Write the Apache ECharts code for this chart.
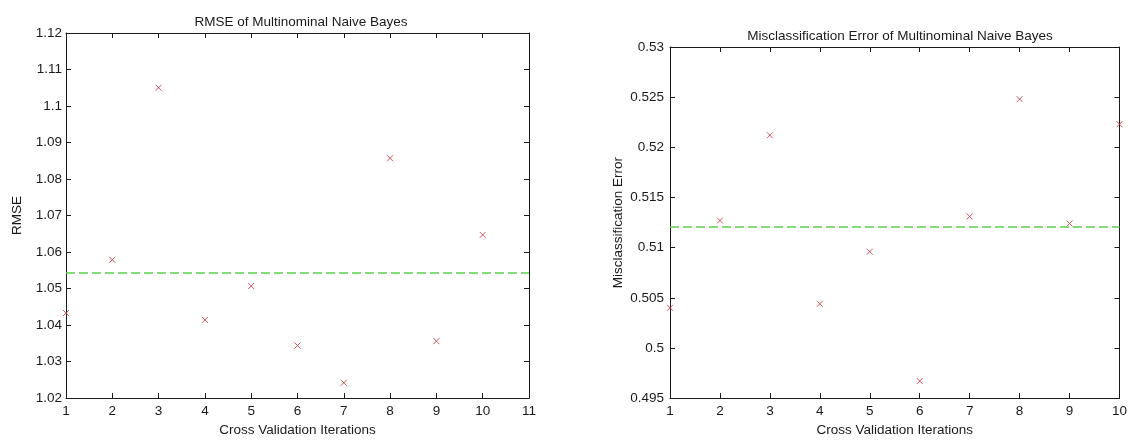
<!DOCTYPE html>
<html>
<head>
<meta charset="utf-8">
<style>
  html, body { margin: 0; padding: 0; background: #fff; }
  #chart { width: 1130px; height: 442px; }
</style>
<script src="https://cdn.jsdelivr.net/npm/echarts@6/dist/echarts.min.js"></script>
</head>
<body>
<div id="chart"></div>
<script>
// ---- data ----
const iterations = [1, 2, 3, 4, 5, 6, 7, 8, 9, 10];
const rmseValues = [1.0433, 1.0579, 1.1050, 1.0414, 1.0507, 1.0344, 1.0242, 1.0857, 1.0356, 1.0647];
const rmseMean = 1.0543;
const errorValues = [0.5040, 0.5127, 0.5212, 0.5044, 0.5096, 0.4967, 0.5131, 0.5248, 0.5124, 0.5223];
const errorMean = 0.5121;

const leftTitle = 'RMSE of Multinominal Naive Bayes';
const rightTitle = 'Misclassification Error of Multinominal Naive Bayes';
const xName = 'Cross Validation Iterations';
const leftYName = 'RMSE';
const rightYName = 'Misclassification Error';

// ---- styling ----
const FONT = 'Liberation Sans, Arial, sans-serif';
const FS = 13.5;
const AXIS_COLOR = '#1a1a1a';
const TEXT_COLOR = '#1a1a1a';
const MARK_COLOR = '#c0303e';
const MEAN_COLOR = '#5ccf4f';
const X_SYMBOL = 'path://M0,0L10,10M10,0L0,10';

function pairs(xs, ys) { return xs.map((x, i) => [x, ys[i]]); }

function xAxisPair(gridIndex, min, max) {
  const common = {
    gridIndex, type: 'value', min, max, interval: 1,
    splitLine: { show: false },
    axisLine: { show: true, onZero: false, lineStyle: { color: AXIS_COLOR, width: 1 } },
    axisTick: { show: true, inside: true, length: 5, lineStyle: { color: AXIS_COLOR } }
  };
  return [
    Object.assign({}, common, {
      position: 'bottom',
      name: xName, nameLocation: 'middle', nameGap: 22,
      nameTextStyle: { fontFamily: FONT, fontSize: FS, color: TEXT_COLOR },
      axisLabel: { show: true, margin: 6, fontFamily: FONT, fontSize: FS, color: TEXT_COLOR }
    }),
    Object.assign({}, common, { position: 'top', axisLabel: { show: false } })
  ];
}

function yAxisPair(gridIndex, min, max, interval, name, nameGap, labelMargin) {
  const common = {
    gridIndex, type: 'value', min, max, interval,
    splitLine: { show: false },
    axisLine: { show: true, onZero: false, lineStyle: { color: AXIS_COLOR, width: 1 } },
    axisTick: { show: true, inside: true, length: 5, lineStyle: { color: AXIS_COLOR } }
  };
  return [
    Object.assign({}, common, {
      position: 'left',
      name, nameLocation: 'middle', nameGap,
      nameTextStyle: { fontFamily: FONT, fontSize: FS, color: TEXT_COLOR },
      axisLabel: { show: true, margin: labelMargin, fontFamily: FONT, fontSize: FS, color: TEXT_COLOR }
    }),
    Object.assign({}, common, { position: 'right', axisLabel: { show: false } })
  ];
}

function scatterSeries(xi, yi, data, mean) {
  return {
    type: 'scatter',
    xAxisIndex: xi, yAxisIndex: yi,
    data,
    symbol: X_SYMBOL,
    symbolSize: 6,
    clip: false,
    itemStyle: { color: 'none', borderColor: MARK_COLOR, borderWidth: 1 },
    emphasis: { disabled: true },
    markLine: {
      silent: true,
      symbol: 'none',
      precision: 6,
      label: { show: false },
      lineStyle: { color: MEAN_COLOR, type: [9, 4], width: 1.5 },
      emphasis: { disabled: true },
      data: [{ yAxis: mean }]
    }
  };
}

const chart = echarts.init(document.getElementById('chart'), null, { renderer: 'canvas' });
chart.setOption({
  animation: false,
  backgroundColor: '#ffffff',
  textStyle: { fontFamily: FONT },
  title: [
    { text: leftTitle, left: 296, top: 10, textAlign: 'center',
      textStyle: { fontFamily: FONT, fontSize: FS, fontWeight: 'normal', color: TEXT_COLOR } },
    { text: rightTitle, left: 895, top: 24, textAlign: 'center',
      textStyle: { fontFamily: FONT, fontSize: FS, fontWeight: 'normal', color: TEXT_COLOR } }
  ],
  grid: [
    { left: 66, right: 601, top: 33, bottom: 39 },
    { left: 670, right: 8, top: 47, bottom: 39 }
  ],
  xAxis: [].concat(xAxisPair(0, 1, 11), xAxisPair(1, 1, 10)),
  yAxis: [].concat(
    yAxisPair(0, 1.02, 1.12, 0.01, leftYName, 42, 4),
    yAxisPair(1, 0.495, 0.53, 0.005, rightYName, 45, 6)
  ),
  series: [
    scatterSeries(0, 0, pairs(iterations, rmseValues), rmseMean),
    scatterSeries(2, 2, pairs(iterations, errorValues), errorMean)
  ]
});
</script>
</body>
</html>
